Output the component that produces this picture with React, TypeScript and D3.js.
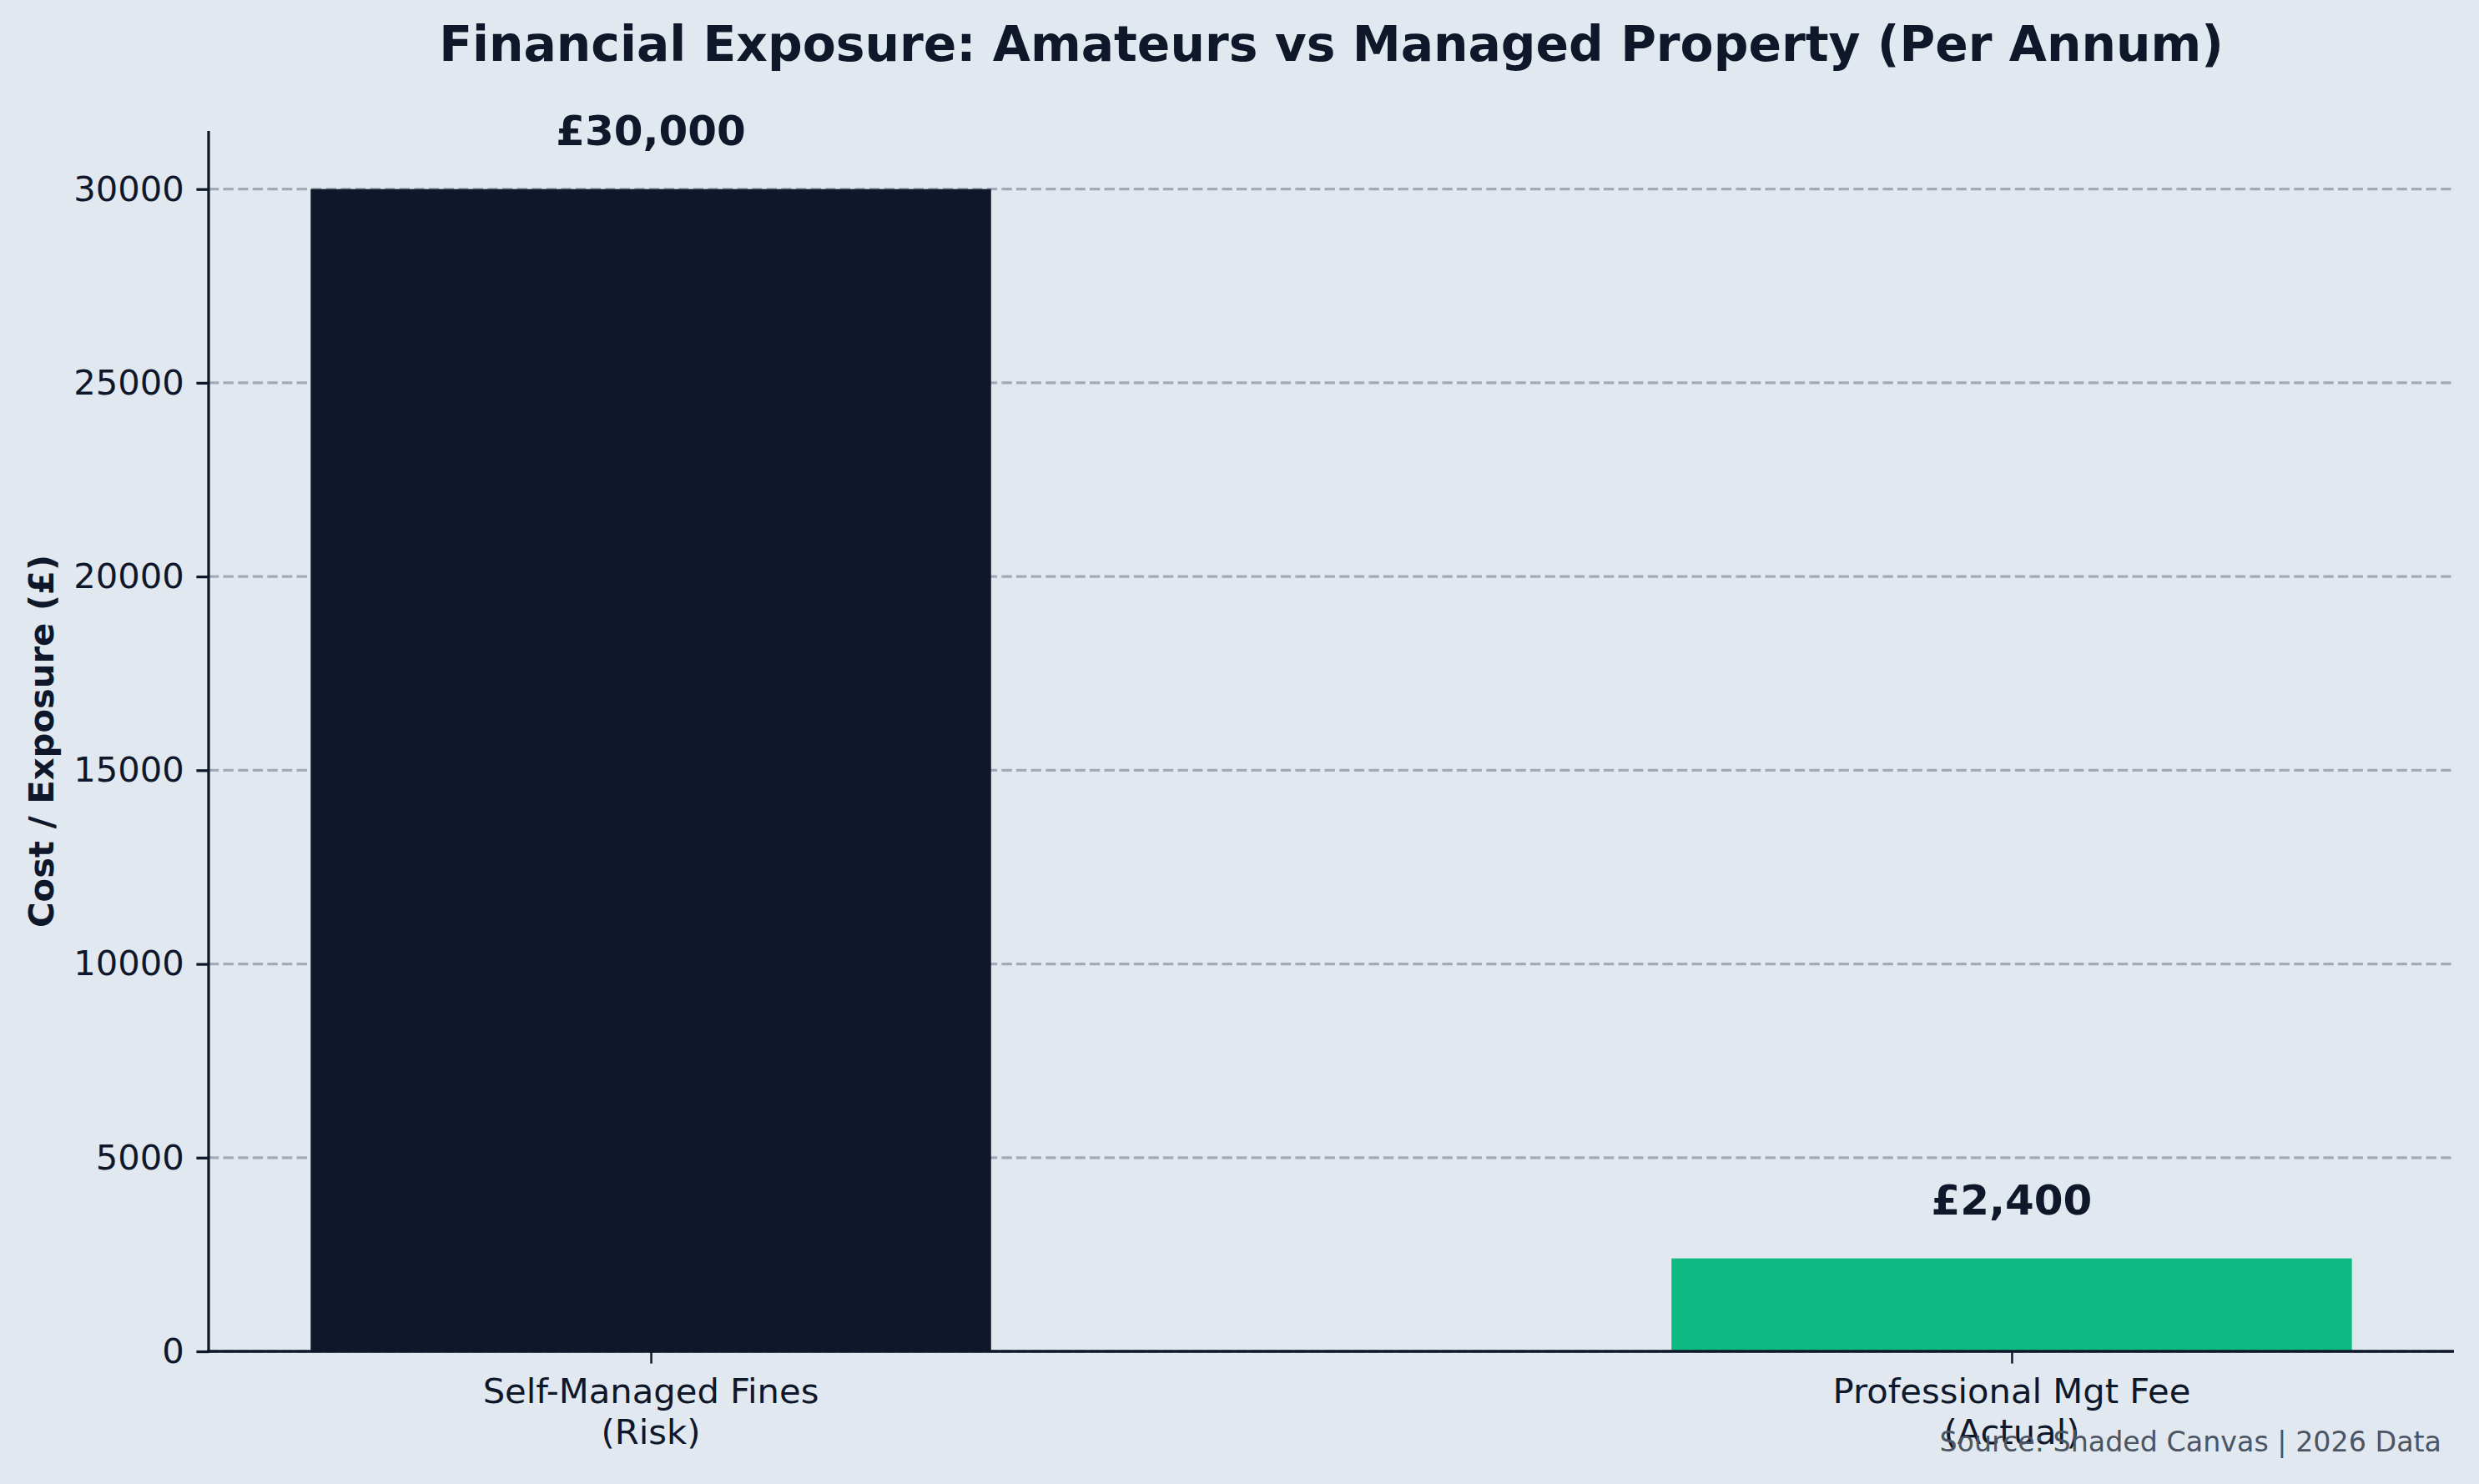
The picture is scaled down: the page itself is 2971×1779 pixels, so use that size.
import { useEffect, useRef } from "react";
import * as d3 from "d3";

const categories = ["Self-Managed Fines\n(Risk)", "Professional Mgt Fee\n(Actual)"];
const values = [30000, 2400];
const valueLabels = ["£30,000", "£2,400"];
const barColors = ["#0f172a", "#10b981"];
const yTicks = [0, 5000, 10000, 15000, 20000, 25000, 30000];

const W = 2971;
const H = 1779;
const left = 250;
const right = 2941;
const top = 157;
const bottom = 1620;
const ink = "#0f172a";
const font = "DejaVu Sans, sans-serif";

export default function App() {
  const ref = useRef<SVGSVGElement>(null);

  // matplotlib style: bar width 0.5, 5% margins
  const xScale = d3.scaleLinear().domain([-0.325, 1.325]).range([left, right]);
  const yScale = d3.scaleLinear().domain([0, 31500]).range([bottom, top]);
  const barW = xScale(0.5) - xScale(0);

  useEffect(() => {
    document.body.style.margin = "0";
    const svg = d3.select(ref.current);

    const yAxis = svg.select<SVGGElement>("#yAxis");
    yAxis.call(
      d3.axisLeft(yScale).tickValues(yTicks).tickSize(14.6).tickSizeOuter(0).tickPadding(14.6).tickFormat(d3.format("d"))
    );
    yAxis.select(".domain").remove();
    yAxis.selectAll(".tick line").attr("stroke", ink).attr("stroke-width", 3.3);
    yAxis.selectAll(".tick text").attr("fill", ink).attr("font-size", 41.7).attr("font-family", font);

    const xAxis = svg.select<SVGGElement>("#xAxis");
    xAxis.call(
      d3.axisBottom(xScale).tickValues([0, 1]).tickSize(14.6).tickSizeOuter(0).tickFormat(() => "")
    );
    xAxis.select(".domain").remove();
    xAxis.selectAll(".tick line").attr("stroke", ink).attr("stroke-width", 2.5);
  });

  return (
    <svg ref={ref} width={W} height={H} style={{ display: "block", background: "#e2e8f0" }}>
      <rect x={0} y={0} width={W} height={H} fill="#e2e8f0" />
      <text x={(left + right) / 2} y={73} textAnchor="middle" fontFamily={font} fontWeight="bold" fontSize={58.3} fill={ink}>
        Financial Exposure: Amateurs vs Managed Property (Per Annum)
      </text>

      {yTicks.map(t => (
        <line key={t} x1={left} x2={right} y1={yScale(t)} y2={yScale(t)} stroke="#9ca3af" strokeOpacity={0.9} strokeWidth={3.3} strokeDasharray="12.3,5.3" />
      ))}

      {values.map((v, i) => (
        <rect key={i} x={xScale(i) - barW / 2} y={yScale(v)} width={barW} height={bottom - yScale(v)} fill={barColors[i]} />
      ))}

      {values.map((v, i) => (
        <text key={i} x={xScale(i)} y={yScale(v) - 53} textAnchor="middle" fontFamily={font} fontWeight="bold" fontSize={50} fill={ink}>
          {valueLabels[i]}
        </text>
      ))}

      <g id="yAxis" transform={`translate(${left},0)`}></g>
      <g id="xAxis" transform={`translate(0,${bottom})`}></g>

      <line x1={left} x2={left} y1={top} y2={bottom + 1.6} stroke={ink} strokeWidth={3.3} />
      <line x1={left - 1.6} x2={right} y1={bottom} y2={bottom} stroke={ink} strokeWidth={3.3} />

      {categories.map((c, i) => (
        <text key={i} textAnchor="middle" fontFamily={font} fontSize={41.7} fill={ink}>
          {c.split("\n").map((ln, j) => (
            <tspan key={j} x={xScale(i)} y={1682 + j * 48.5}>{ln}</tspan>
          ))}
        </text>
      ))}

      <text transform={`translate(64,${(top + bottom) / 2}) rotate(-90)`} textAnchor="middle" fontFamily={font} fontWeight="bold" fontSize={41.7} fill={ink}>
        Cost / Exposure (£)
      </text>

      <text x={2926} y={1740} textAnchor="end" fontFamily={font} fontSize={33.3} fill="#4b5563">
        Source: Shaded Canvas | 2026 Data
      </text>
    </svg>
  );
}
